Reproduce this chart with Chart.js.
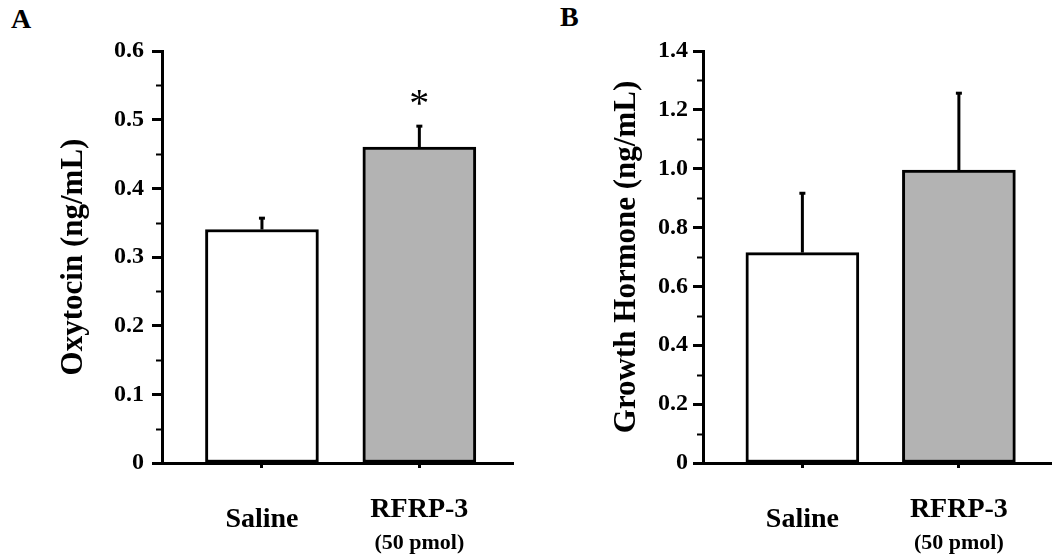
<!DOCTYPE html>
<html>
<head>
<meta charset="utf-8">
<script src="https://cdn.jsdelivr.net/npm/chart.js@4.4.1/dist/chart.umd.min.js"></script>
<style>
  html, body { margin: 0; padding: 0; background: #fff; }
  body { width: 1052px; height: 558px; position: relative; overflow: hidden; font-family: 'Liberation Serif', 'Times New Roman', serif; }
  .panel { position: absolute; top: 0; height: 558px; }
  .letter { position: absolute; font-weight: bold; font-size: 28px; line-height: 28px; color: #000; }
</style>
</head>
<body>
<div class="letter" style="left:11px;top:5px">A</div>
<div class="letter" style="left:560px;top:3px">B</div>
<div class="panel" style="left:0;width:540px"><canvas id="chartA"></canvas></div>
<div class="panel" style="left:540px;width:512px"><canvas id="chartB"></canvas></div>
<script>
// data
const categories = ['Saline', 'RFRP-3'];
const subLabels = ['', '(50 pmol)'];
const barColors = ['#ffffff', '#b3b3b3'];

const oxytocin = [0.34, 0.46];
const oxytocinErr = [0.018, 0.032];
const oxytocinSig = ['', '*'];
const oxytocinTicks = ['0', '0.1', '0.2', '0.3', '0.4', '0.5', '0.6'];

const growthHormone = [0.715, 0.995];
const growthHormoneErr = [0.205, 0.265];
const growthHormoneSig = ['', ''];
const growthHormoneTicks = ['0', '0.2', '0.4', '0.6', '0.8', '1.0', '1.2', '1.4'];

const FONT = "'Liberation Serif', 'Times New Roman', serif";
Chart.defaults.font.family = FONT;
Chart.defaults.color = '#000';

// error bars, minor ticks, asterisks and category labels
const extrasPlugin = {
    id: 'extras',
    afterDatasetsDraw(chart, args, opts) {
        const ctx = chart.ctx;
        const xs = chart.scales.x, ys = chart.scales.y;
        const area = chart.chartArea;
        const meta = chart.getDatasetMeta(0);
        ctx.save();
        ctx.strokeStyle = '#000';
        ctx.fillStyle = '#000';

        // minor ticks halfway between labelled ones
        ctx.lineWidth = 2;
        for (let v = opts.step / 2; v < ys.max; v += opts.step) {
            const py = Math.round(ys.getPixelForValue(v)) + 0.5;
            ctx.beginPath();
            ctx.moveTo(area.left - 6, py);
            ctx.lineTo(area.left, py);
            ctx.stroke();
        }

        meta.data.forEach((bar, i) => {
            const top = ys.getPixelForValue(opts.values[i]);
            const errY = ys.getPixelForValue(opts.values[i] + opts.errors[i]);
            ctx.lineWidth = 3;
            ctx.beginPath();
            ctx.moveTo(bar.x, top);
            ctx.lineTo(bar.x, errY);
            ctx.stroke();
            ctx.beginPath();
            ctx.moveTo(bar.x - 3, errY + 1);
            ctx.lineTo(bar.x + 3, errY + 1);
            ctx.stroke();

            if (opts.sig[i]) {
                ctx.font = 'normal 40px ' + FONT;
                ctx.textAlign = 'center';
                ctx.textBaseline = 'alphabetic';
                ctx.fillText(opts.sig[i], bar.x, errY - 9);
            }

            const cx = xs.getPixelForValue(i);
            ctx.textAlign = 'center';
            ctx.textBaseline = 'alphabetic';
            ctx.font = 'bold 28px ' + FONT;
            ctx.fillText(categories[i], cx, area.bottom + (subLabels[i] ? 54 : 64));
            if (subLabels[i]) {
                ctx.font = 'bold 22px ' + FONT;
                ctx.fillText(subLabels[i], cx, area.bottom + 86);
            }
        });
        ctx.restore();
    }
};

function makeChart(id, values, errors, sig, tickLabels, max, step, title, titlePad, tickPad, axisWidth, rightPad) {
    return new Chart(document.getElementById(id), {
        type: 'bar',
        data: {
            datasets: [{
                data: values.map((v, i) => ({ x: i, y: v })),
                backgroundColor: barColors,
                borderColor: '#000',
                borderWidth: 3,
                borderSkipped: false,
                barThickness: 113
            }]
        },
        options: {
            responsive: true,
            maintainAspectRatio: false,
            animation: false,
            events: [],
            layout: { padding: { top: 51, right: rightPad, bottom: 0, left: 0 } },
            plugins: {
                legend: { display: false },
                tooltip: { enabled: false },
                extras: { values, errors, sig, step }
            },
            scales: {
                x: {
                    type: 'linear',
                    offset: false,
                    min: -0.635,
                    max: 1.595,
                    afterBuildTicks: s => { s.ticks = categories.map((c, i) => ({ value: i })); },
                    ticks: { display: false },
                    grid: { offset: false, drawOnChartArea: false, tickLength: 5, tickWidth: 3, tickColor: '#000' },
                    border: { color: '#000', width: 3 },
                    afterFit: s => { s.height = 95; }
                },
                y: {
                    min: 0,
                    max: max,
                    ticks: {
                        stepSize: step,
                        padding: tickPad,
                        color: '#000',
                        font: { size: 24, weight: 'bold' },
                        callback: (v, i) => tickLabels[i]
                    },
                    grid: { drawOnChartArea: false, tickLength: 10, tickWidth: 3, tickColor: '#000' },
                    border: { color: '#000', width: 3 },
                    title: {
                        display: true,
                        text: title,
                        color: '#000',
                        font: { size: 31, weight: 'bold' },
                        padding: { top: titlePad, bottom: 0 }
                    },
                    afterFit: s => { s.width = axisWidth; }
                }
            }
        },
        plugins: [extrasPlugin]
    });
}

makeChart('chartA', oxytocin, oxytocinErr, oxytocinSig, oxytocinTicks, 0.6, 0.1,
    'Oxytocin (ng/mL)', 55, 8, 162, 27);
makeChart('chartB', growthHormone, growthHormoneErr, growthHormoneSig, growthHormoneTicks, 1.4, 0.2,
    'Growth Hormone (ng/mL)', 68, 5, 163, 0);
</script>
</body>
</html>
